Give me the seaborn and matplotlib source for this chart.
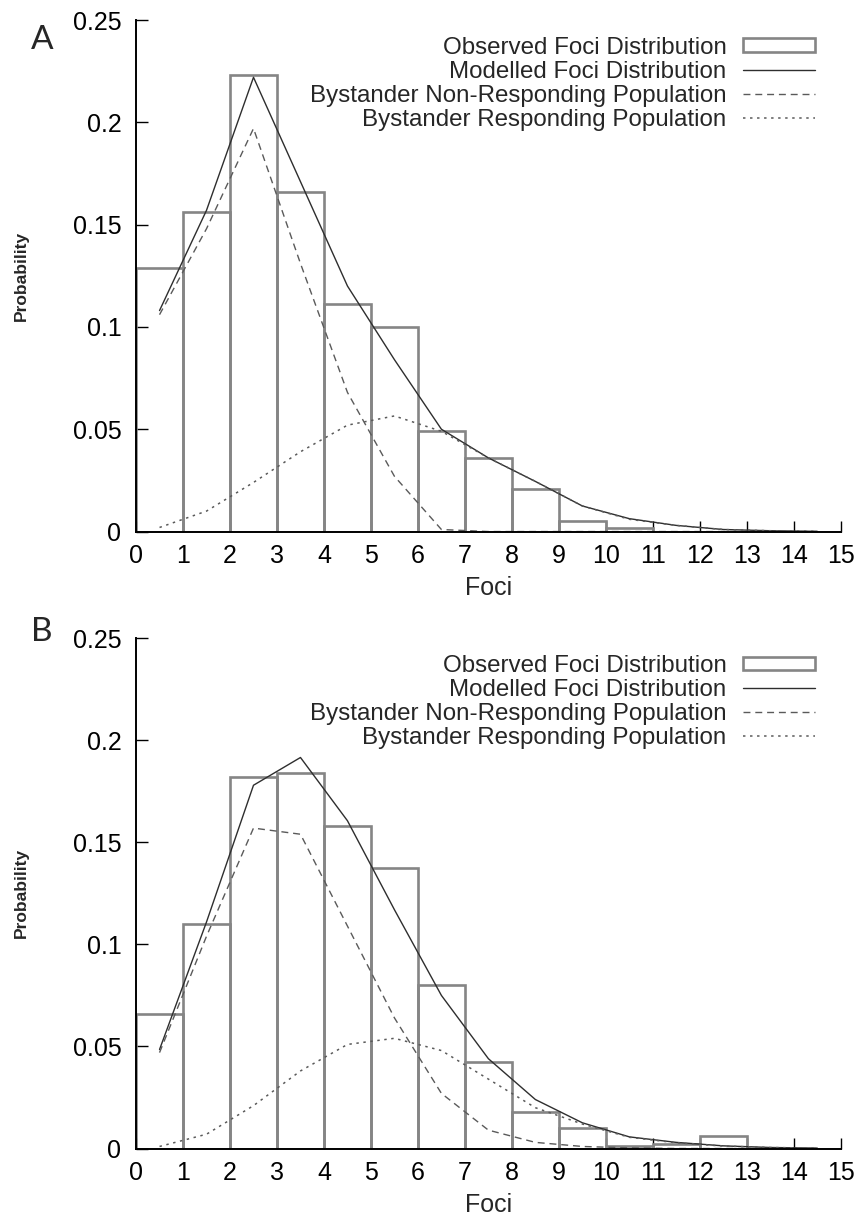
import matplotlib
matplotlib.use("Agg")
import matplotlib.pyplot as plt
import seaborn as sns
from matplotlib.patches import Patch
from matplotlib.lines import Line2D

# bin centres of the foci histogram
foci = [0.5, 1.5, 2.5, 3.5, 4.5, 5.5, 6.5, 7.5, 8.5, 9.5, 10.5, 11.5, 12.5, 13.5, 14.5]

# panel A
obs_a = [0.129, 0.156, 0.223, 0.166, 0.111, 0.100, 0.049, 0.036, 0.021, 0.005, 0.0015, 0.0, 0.0, 0.0, 0.0]
model_a = [0.108, 0.157, 0.222, 0.171, 0.120, 0.084, 0.050, 0.036, 0.0245, 0.0125, 0.0063, 0.003, 0.001, 0.0004, 0.0001]
nonresp_a = [0.106, 0.148, 0.197, 0.131, 0.068, 0.027, 0.001, 0.0, 0.0, 0.0, 0.0, 0.0, 0.0, 0.0, 0.0]
resp_a = [0.002, 0.010, 0.024, 0.039, 0.052, 0.0565, 0.049, 0.036, 0.0245, 0.0125, 0.006, 0.003, 0.001, 0.0004, 0.0001]

# panel B
obs_b = [0.066, 0.110, 0.182, 0.184, 0.158, 0.1375, 0.080, 0.0425, 0.0177, 0.0099, 0.0013, 0.002, 0.0063, 0.0, 0.0]
model_b = [0.0485, 0.111, 0.178, 0.1916, 0.1606, 0.117, 0.075, 0.044, 0.024, 0.0126, 0.0057, 0.003, 0.0013, 0.0005, 0.0002]
nonresp_b = [0.047, 0.104, 0.157, 0.154, 0.109, 0.064, 0.027, 0.009, 0.003, 0.001, 0.0003, 0.0, 0.0, 0.0, 0.0]
resp_b = [0.001, 0.007, 0.021, 0.038, 0.051, 0.054, 0.048, 0.034, 0.020, 0.012, 0.0055, 0.0028, 0.0012, 0.0005, 0.0002]

xticks = list(range(16))
xtick_labels = [str(t) for t in xticks]
yticks = [0, 0.05, 0.1, 0.15, 0.2, 0.25]
ytick_labels = ["0", "0.05", "0.1", "0.15", "0.2", "0.25"]
legend_labels = ["Observed Foci Distribution", "Modelled Foci Distribution",
                 "Bystander Non-Responding Population", "Bystander Responding Population"]

BAR = "#858585"
SOLID = "#2e2e2e"
DASH = "#5a5a5a"
DOT = "#5a5a5a"
DASHES = (0, (5, 3.5))
DOTS = (0, (1.6, 3.0))

sns.set_style("ticks")
plt.rcParams["font.family"] = ["Liberation Sans", "DejaVu Sans"]


def draw_panel(ax, obs, model, nonresp, resp):
    # histogram of observed foci, open bars
    sns.barplot(x=foci, y=obs, native_scale=True, width=1, fill=False, color=BAR,
                linewidth=1.9, errorbar=None, ax=ax)
    sns.lineplot(x=foci, y=model, color=SOLID, linewidth=1.0, ax=ax)
    sns.lineplot(x=foci, y=nonresp, color=DASH, linewidth=1.0, linestyle=DASHES, ax=ax)
    sns.lineplot(x=foci, y=resp, color=DOT, linewidth=1.1, linestyle=DOTS, ax=ax)

    ax.set_xlim(0, 15)
    ax.set_ylim(0, 0.25)
    ax.set_xticks(xticks)
    ax.set_xticklabels(xtick_labels)
    ax.set_yticks(yticks)
    ax.set_yticklabels(ytick_labels)
    sns.despine(ax=ax)
    for s in ["left", "bottom"]:
        ax.spines[s].set_linewidth(1.4)
        ax.spines[s].set_color("black")
    ax.tick_params(axis="both", direction="in", width=1.0, labelsize=18, colors="black")
    ax.tick_params(axis="y", length=8.6, pad=10.5)
    ax.tick_params(axis="x", length=8.0, pad=9)

    ax.set_xlabel("Foci", fontsize=18, labelpad=6)
    ax.set_ylabel("Probability", fontsize=12.5, fontweight="bold", va="center")
    ax.yaxis.set_label_coords(-0.163, 0.5)

    handles = [
        Patch(facecolor="white", edgecolor=BAR, linewidth=1.9),
        Line2D([], [], color=SOLID, linewidth=1.0),
        Line2D([], [], color=DASH, linewidth=1.0, linestyle=DASHES),
        Line2D([], [], color=DOT, linewidth=1.1, linestyle=DOTS),
    ]
    ax.legend(handles=handles, labels=legend_labels, loc="upper right",
              bbox_to_anchor=(0.9635, 0.967), frameon=False, markerfirst=False,
              fontsize=17.4, handlelength=3.0, handletextpad=0.66, labelspacing=0.08,
              borderpad=0, borderaxespad=0, handleheight=0.5)


fig = plt.figure(figsize=(8.61, 12.2), dpi=100)
ax_a = fig.add_axes([0.158, 0.5643, 0.8185, 0.4193])
ax_b = fig.add_axes([0.158, 0.0586, 0.8185, 0.4182])

draw_panel(ax_a, obs_a, model_a, nonresp_a, resp_a)
draw_panel(ax_b, obs_b, model_b, nonresp_b, resp_b)

fig.text(0.0490, 0.9670, "A", fontsize=24, family=["Lato", "DejaVu Sans"], ha="center", va="center")
fig.text(0.0490, 0.4820, "B", fontsize=24, family=["Lato", "DejaVu Sans"], ha="center", va="center")

fig.savefig("out.png", dpi=100)
